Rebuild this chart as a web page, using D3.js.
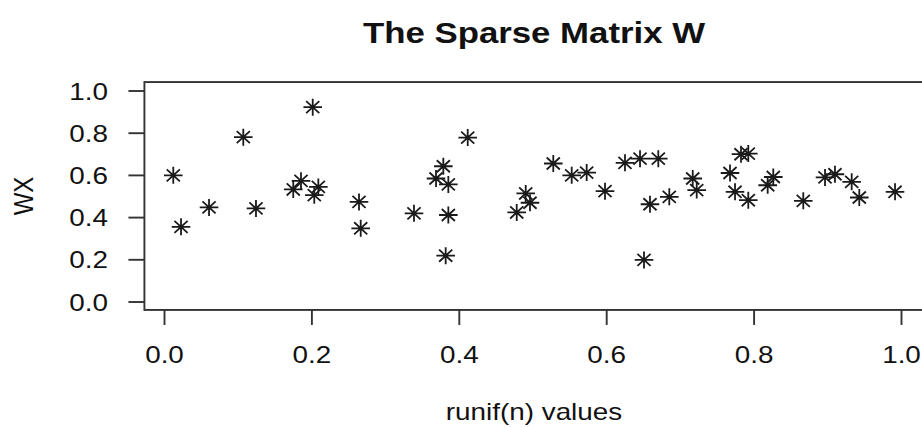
<!DOCTYPE html>
<html>
<head>
<meta charset="utf-8">
<script src="https://cdn.jsdelivr.net/npm/d3@7"></script>
<style>
  body { margin: 0; background: #fff; }
  svg { display: block; font-family: "Liberation Sans", Arial, sans-serif; }
</style>
</head>
<body>
<div id="chart"></div>
<script>
// Data: runif(n) values against WX
var runifValues = [0.0126, 0.0231, 0.0611, 0.1076, 0.1248, 0.2018, 0.1754, 0.1859, 0.2094, 0.2039,
  0.2646, 0.2669, 0.3392, 0.4121, 0.3790, 0.3691, 0.3858, 0.3858, 0.3822, 0.4786,
  0.4908, 0.4966, 0.5282, 0.5532, 0.5735, 0.5984, 0.6255, 0.6459, 0.6707, 0.6594,
  0.6513, 0.6856, 0.7174, 0.7228, 0.7680, 0.7829, 0.7928, 0.7748, 0.7928, 0.8267,
  0.8191, 0.8674, 0.8969, 0.9104, 0.9331, 0.9434, 0.9919];
var wxValues = [0.598, 0.354, 0.446, 0.779, 0.441, 0.921, 0.531, 0.572, 0.543, 0.504,
  0.472, 0.347, 0.418, 0.777, 0.641, 0.583, 0.555, 0.410, 0.217, 0.422,
  0.512, 0.468, 0.654, 0.598, 0.611, 0.523, 0.657, 0.677, 0.677, 0.461,
  0.197, 0.496, 0.583, 0.528, 0.609, 0.698, 0.701, 0.520, 0.480, 0.590,
  0.551, 0.477, 0.588, 0.603, 0.567, 0.493, 0.520];
var xTicks = [0, 0.2, 0.4, 0.6, 0.8, 1.0];
var yTicks = [0, 0.2, 0.4, 0.6, 0.8, 1.0];
var titleText = "The Sparse Matrix W";
var xLabel = "runif(n) values";
var yLabel = "WX";

var width = 922, height = 428;
var stretch = 1.16; // the picture is a bit wider than it is tall

var svg = d3.select("#chart").append("svg")
    .attr("width", width)
    .attr("height", height);

// Scales: 0..1 in data maps to these pixel spots
var xScale = d3.scaleLinear().domain([0, 1]).range([164, 901]);
var yScale = d3.scaleLinear().domain([0, 1]).range([301.5, 90.5]);

// R style 4% padding round the data for the box
var xMin = d3.min(runifValues), xMax = d3.max(runifValues);
var xPad = (xMax - xMin) * 0.04;
var boxLeft = xScale(xMin - xPad), boxRight = xScale(xMax + xPad);
var boxTop = yScale(1.04), boxBottom = yScale(-0.04);

// Box round the plot
svg.append("rect")
    .attr("x", boxLeft)
    .attr("y", boxTop)
    .attr("width", boxRight - boxLeft)
    .attr("height", boxBottom - boxTop)
    .style("fill", "none")
    .style("stroke", "#333")
    .style("stroke-width", 1.9);

// x axis
var xAxisG = svg.append("g")
    .attr("transform", "translate(0," + boxBottom + ")")
    .call(d3.axisBottom(xScale).tickValues(xTicks).tickSize(15).tickFormat(d3.format(".1f")));
xAxisG.select(".domain").remove();
xAxisG.selectAll("line").style("stroke", "#333").style("stroke-width", 1.9);
xAxisG.selectAll("text")
    .attr("y", 0).attr("dy", null)
    .attr("transform", "translate(0,53) scale(" + stretch + ",1)")
    .style("font-size", "24px")
    .style("fill", "#111");

// y axis
var yAxisG = svg.append("g")
    .attr("transform", "translate(" + boxLeft + ",0)")
    .call(d3.axisLeft(yScale).tickValues(yTicks).tickSize(16).tickFormat(d3.format(".1f")));
yAxisG.select(".domain").remove();
yAxisG.selectAll("line").style("stroke", "#333").style("stroke-width", 1.9);
yAxisG.selectAll("text")
    .attr("x", 0).attr("dy", "0.36em")
    .attr("transform", "translate(" + (108 - boxLeft) + ",0) scale(" + stretch + ",1)")
    .style("font-size", "24px")
    .style("fill", "#111");

// Title and axis labels
svg.append("text")
    .attr("transform", "translate(534,43) scale(" + stretch + ",1)")
    .attr("text-anchor", "middle")
    .style("font-size", "30px")
    .style("font-weight", "bold")
    .style("fill", "#111")
    .text(titleText);

svg.append("text")
    .attr("transform", "translate(534,420) scale(" + stretch + ",1)")
    .attr("text-anchor", "middle")
    .style("font-size", "24px")
    .style("fill", "#111")
    .text(xLabel);

svg.append("text")
    .attr("transform", "translate(33,196) rotate(-90) scale(1," + stretch + ")")
    .attr("text-anchor", "middle")
    .style("font-size", "24px")
    .style("fill", "#111")
    .text(yLabel);

// Star markers (pch = 8): eight arms of equal length
var armX = 9.3, armY = 8.5;
var starPath = function(cx, cy) {
  var d = "";
  for (var i = 0; i < 4; i++) {
    var a = i * Math.PI / 4;
    var dx = Math.cos(a) * armX, dy = Math.sin(a) * armY;
    d += "M" + (cx - dx) + "," + (cy - dy) + "L" + (cx + dx) + "," + (cy + dy);
  }
  return d;
};

svg.append("g").selectAll("path")
    .data(d3.range(runifValues.length))
    .enter().append("path")
    .attr("d", i => starPath(xScale(runifValues[i]), yScale(wxValues[i])))
    .style("fill", "none")
    .style("stroke", "#1a1a1a")
    .style("stroke-width", 1.8);
</script>
</body>
</html>
